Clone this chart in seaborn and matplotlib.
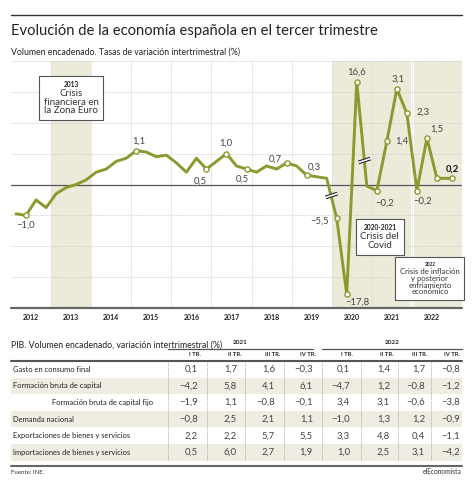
import matplotlib
matplotlib.use("Agg")
import matplotlib.pyplot as plt
from matplotlib.markers import MarkerStyle
from matplotlib.path import Path
from matplotlib.patches import Rectangle
from matplotlib.transforms import Affine2D
from matplotlib.offsetbox import TextArea, VPacker, AnnotationBbox
import seaborn as sns
import pandas as pd

# ---------------- datos del gráfico ----------------
anios = list(range(2012, 2023))
trimestres = ["I", "II", "III", "IV"]

# PIB, variación intertrimestral (%), desde 2012-I hasta 2022-III
pib_trimestral = [
    -0.95, -1.0, -0.5, -0.75,     # 2012
    -0.3, -0.1, 0.0, 0.15,        # 2013
    0.4, 0.5, 0.75, 0.85,         # 2014
    1.1, 1.05, 0.9, 0.95,         # 2015
    0.7, 0.4, 0.85, 0.5,          # 2016
    0.75, 1.0, 0.6, 0.5,          # 2017
    0.4, 0.6, 0.5, 0.7,           # 2018
    0.6, 0.3, 0.25, 0.2,          # 2019
    -5.5, -17.8, 16.6, -0.05,     # 2020
    -0.2, 1.4, 3.1, 2.3,          # 2021
    -0.2, 1.5, 0.2,               # 2022
]
# último dato (avance) que el gráfico prolonga hasta el final del año
posicion_avance = 2023.0
valor_avance = 0.2

# trimestres que se dibujan con el eje cortado (escala reducida)
trimestres_cortados = ["2020-I", "2020-II", "2020-III"]
factor_corte = 5

# puntos con marcador y etiqueta (desplazamiento de la etiqueta en píxeles)
etiquetas = {
    "2012-II": (0, -10), "2015-I": (3, 9), "2016-IV": (-6, -12),
    "2017-II": (-1, 10), "2017-IV": (-4, -10), "2018-IV": (-11, 4),
    "2019-II": (8, 8), "2020-I": (-17, -3), "2020-II": (11, -8),
    "2020-III": (0, 10), "2021-I": (8, -13), "2021-II": (15, 0),
    "2021-III": (1, 10), "2021-IV": (16, 1), "2022-I": (6, -11),
    "2022-II": (10, 9), "avance": (0, 9),
}
marcadores_sin_etiqueta = ["2022-III"]

# ---------------- datos de la tabla ----------------
tabla_anios = ["2021", "2022"]
tabla_trimestres = ["I TR.", "II TR.", "III TR.", "IV TR."]
tabla_filas = [
    "Gasto en consumo final",
    "Formación bruta de capital",
    "Formación bruta de capital fijo",
    "Demanda nacional",
    "Exportaciones de bienes y servicios",
    "Importaciones de bienes y servicios",
]
gasto_consumo = [0.1, 1.7, 1.6, -0.3, 0.1, 1.4, 1.7, -0.8]
fbc = [-4.2, 5.8, 4.1, 6.1, -4.7, 1.2, -0.8, -1.2]
fbc_fijo = [-1.9, 1.1, -0.8, -0.1, 3.4, 3.1, -0.6, -3.8]
demanda_nacional = [-0.8, 2.5, 2.1, 1.1, -1.0, 1.3, 1.2, -0.9]
exportaciones = [2.2, 2.2, 5.7, 5.5, 3.3, 4.8, 0.4, -1.1]
importaciones = [0.5, 6.0, 2.7, 1.9, 1.0, 2.5, 3.1, -4.2]
tabla_valores = [gasto_consumo, fbc, fbc_fijo, demanda_nacional,
                 exportaciones, importaciones]


def fmt(v):
    return f"{v:.1f}".replace(".", ",").replace("-", "\u2212")


# ---------------- construcción del DataFrame ----------------
claves, posiciones = [], []
for a in anios:
    for i, t in enumerate(trimestres):
        claves.append(f"{a}-{t}")
        posiciones.append(a + (i + 0.5) / 4)
claves = claves[:len(pib_trimestral)] + ["avance"]
posiciones = posiciones[:len(pib_trimestral)] + [posicion_avance]
valores = pib_trimestral + [valor_avance]

df = pd.DataFrame({"clave": claves, "x": posiciones, "valor": valores})
df["y"] = [v / factor_corte if k in trimestres_cortados else v
           for k, v in zip(df["clave"], df["valor"])]

# ---------------- estilo ----------------
sns.set_theme(style="white")
plt.rcParams["font.family"] = ["Lato", "DejaVu Sans"]

OLIVA = "#8a9a2e"
BANDA = "#ecead9"
TEXTO = "#333333"
GRIS_GRID = "#c9c9c9"

W, H = 474, 484
fig = plt.figure(figsize=(W / 100, H / 100), dpi=100)

# capa de maquetación en píxeles
lay = fig.add_axes([0, 0, 1, 1])
lay.set_xlim(0, W)
lay.set_ylim(H, 0)
lay.axis("off")

L, R, T, B = 11, 462, 61, 308
ax = fig.add_axes([L / W, 1 - B / H, (R - L) / W, (B - T) / H])
ax.set_xlim(2012, 2023.25)
ax.set_ylim(-4, 4)
ax.patch.set_alpha(0)

# bandas de crisis
ax.axvspan(2013, 2014, color=BANDA, lw=0, zorder=0)
ax.axvspan(2020, 2022, color=BANDA, lw=0, zorder=0)
ax.axvspan(2022, 2023.25, color=BANDA, lw=0, zorder=0)
ax.axvline(2022, color="white", lw=2.2, zorder=0.5)

# rejilla
for yv in [-3, -2, -1, 1, 2, 3, 4]:
    ax.axhline(yv, color=GRIS_GRID, lw=0.6, ls=(0, (1, 1)), zorder=1)
for a in anios[1:]:
    ax.axvline(a, color="#dcdcdc", lw=0.7, ls=(0, (1, 0.6)), zorder=1)
ax.axhline(0, color="#555555", lw=0.9, zorder=2)
ax.axhline(-4, color="#666666", lw=1.6, zorder=2, clip_on=False)

# línea
sns.lineplot(data=df, x="x", y="y", ax=ax, color=OLIVA, lw=2.1,
             sort=False, zorder=3)

# marcas de corte de eje
def corte(k1, k2, t):
    r1 = df[df["clave"] == k1].iloc[0]
    r2 = df[df["clave"] == k2].iloc[0]
    xm = r1["x"] + t * (r2["x"] - r1["x"])
    ym = r1["y"] + t * (r2["y"] - r1["y"])
    rot = Affine2D().rotate_deg(18)
    blanco = MarkerStyle(Path([(-1, 0), (1, 0)]), transform=rot)
    dobles = MarkerStyle(Path([(-1, -0.22), (1, -0.22), (-1, 0.22), (1, 0.22)],
                              [Path.MOVETO, Path.LINETO, Path.MOVETO, Path.LINETO]),
                         transform=rot)
    ax.plot([xm], [ym], marker=blanco, ms=9, mec="white", mew=2.4,
            zorder=4, ls="none")
    ax.plot([xm], [ym], marker=dobles, ms=9, mec="#222222", mew=0.8,
            mfc="none", zorder=5, ls="none")

corte("2019-IV", "2020-I", 0.42)
corte("2020-III", "2020-IV", 0.75)

# marcadores y etiquetas
con_marca = df[df["clave"].isin(list(etiquetas) + marcadores_sin_etiqueta)]
sns.scatterplot(data=con_marca, x="x", y="y", ax=ax, s=14, color="white",
                edgecolor=OLIVA, linewidth=1.0, zorder=6, legend=False)
for k, (dx, dy) in etiquetas.items():
    r = df[df["clave"] == k].iloc[0]
    bold = k == "avance"
    ax.annotate(fmt(r["valor"]), (r["x"], r["y"]), xytext=(dx, dy),
                textcoords="offset pixels", ha="center", va="center",
                fontsize=6.8, color="#111111" if bold else "#444444",
                fontweight="bold" if bold else "normal", zorder=7)

# cajas de texto
def caja(x, y, cabecera, cuerpo, size):
    pack = VPacker(children=[
        TextArea(cabecera, textprops=dict(fontsize=size - 2.2, fontweight="bold",
                                          color="#222222")),
        TextArea(cuerpo, textprops=dict(fontsize=size, color=TEXTO,
                                        multialignment="center", linespacing=0.95)),
    ], align="center", pad=0, sep=1)
    ab = AnnotationBbox(pack, (x, y), xycoords="data", frameon=True,
                        box_alignment=(0.5, 0.5), pad=0.35, zorder=8,
                        bboxprops=dict(edgecolor="#555555", lw=0.8,
                                       facecolor="white", boxstyle="square"))
    ax.add_artist(ab)

caja(2013.5, 2.8, "2013", "Crisis\nfinanciera en\nla Zona Euro", 7)
caja(2021.2, -1.7, "2020-2021", "Crisis del\nCovid", 7)
caja(2022.45, -3.05, "2022", "Crisis de inflación\ny posterior\nenfriamiento\neconómico", 5.6)

# eje x
ax.set_xticks([a + 0.5 for a in anios])
ax.set_xticklabels([str(a) for a in anios], fontsize=5, fontweight="bold",
                   color="#222222")
ax.tick_params(axis="x", length=0, pad=4)
ax.set_yticks([])
ax.set_xlabel("")
ax.set_ylabel("")
sns.despine(ax=ax, left=True, bottom=True, top=True, right=True)

# ---------------- títulos ----------------
lay.plot([11, 462], [15, 15], color="#333333", lw=1.0)
lay.text(11, 31, "Evolución de la economía española en el tercer trimestre",
         fontsize=10.6, color="#222222", va="center", ha="left")
lay.text(11, 52, "Volumen encadenado. Tasas de variación intertrimestral (%)",
         fontsize=6.3, color="#222222", va="center", ha="left")

# ---------------- tabla ----------------
lay.text(11, 345, "PIB. Volumen encadenado, variación intertrimestral (%)",
         fontsize=6.3, color="#222222", va="center", ha="left")

col_der = [198, 237, 275, 313, 350, 390, 425, 460]
col_cab = [195, 235, 273, 308, 347, 387, 420, 452]
separadores = [168, 207, 245, 284, 322, 361, 398, 431]
for anio, (x0, x1) in zip(tabla_anios, [(168, 313), (322, 462)]):
    lay.text((x0 + x1) / 2, 343, anio, fontsize=4.6, fontweight="bold",
             ha="center", va="center", color="#222222")
    lay.plot([x0, x1], [349, 349], color="#555555", lw=0.9)
for j, xc in enumerate(col_cab):
    lay.text(xc, 354.5, tabla_trimestres[j % 4], fontsize=4.2, fontweight="bold",
             ha="center", va="center", color="#222222")
lay.plot([11, 462], [361, 361], color="#555555", lw=1.5)

y0, dy = 369.3, 16.6
for i, (nombre, fila) in enumerate(zip(tabla_filas, tabla_valores)):
    yc = y0 + i * dy
    if i in (1, 3, 5):
        lay.add_patch(Rectangle((11, yc - dy / 2), 451, dy, color="#efede2",
                                lw=0, zorder=0))
    lay.text(52 if i == 2 else 13, yc, nombre, fontsize=5.4, ha="left",
             va="center", color="#222222")
    for j, v in enumerate(fila):
        lay.text(col_der[j], yc, fmt(v), fontsize=6.8, ha="right", va="center",
                 color="#444444")
for xs in separadores:
    lay.plot([xs, xs], [362, y0 + 5.5 * dy], color="#999999", lw=0.6,
             ls=(0, (1, 1.2)))
lay.plot([11, 462], [465.7, 465.7], color="#666666", lw=1.5)
lay.text(11, 472, "Fuente: INE.", fontsize=4.4, ha="left", va="center",
         color="#333333")
lay.text(462, 472, "elEconomista", fontsize=4.8, ha="right", va="center",
         color="#333333")

fig.savefig("out.png", dpi=100)
